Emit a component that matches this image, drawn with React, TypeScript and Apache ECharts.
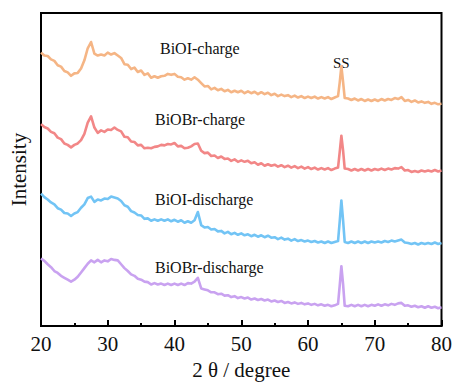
import React, { useEffect, useRef } from "react";
import * as echarts from "echarts";

// 2θ positions (degrees)
const twoTheta: number[] = [
  20, 20.5, 21, 21.5, 22, 22.5, 23, 23.5, 24, 24.5, 25, 25.5, 26, 26.5, 27, 27.5, 28, 28.5, 29, 29.5,
  30, 30.5, 31, 31.5, 32, 32.5, 33, 33.5, 34, 34.5, 35, 35.5, 36, 36.5, 37, 37.5, 38, 38.5, 39, 39.5,
  40, 40.5, 41, 41.5, 42, 42.5, 43, 43.5, 44, 44.5, 45, 45.5, 46, 46.5, 47, 47.5, 48, 48.5, 49, 49.5,
  50, 50.5, 51, 51.5, 52, 52.5, 53, 53.5, 54, 54.5, 55, 55.5, 56, 56.5, 57, 57.5, 58, 58.5, 59, 59.5,
  60, 60.5, 61, 61.5, 62, 62.5, 63, 63.5, 64, 64.5, 64.75, 65, 65.25, 65.5,
  66, 66.5, 67, 67.5, 68, 68.5, 69, 69.5, 70, 70.5, 71, 71.5, 72, 72.5, 73, 73.5, 74, 74.5,
  75, 75.5, 76, 76.5, 77, 77.5, 78, 78.5, 79, 79.5, 80,
];

// Intensities (arbitrary units, stacked with offsets as in the figure)
const biOICharge: number[] = [
  283, 280, 279.5, 276, 274.5, 270, 268.5, 264, 262.5, 259, 261.5, 262, 266.5, 275, 287.5, 294, 282, 280, 281, 280,
  283, 281, 282.5, 280, 277.5, 271, 270.5, 266, 267.5, 263, 264.5, 260, 261.5, 257, 258.5, 257, 258.5, 259, 261, 260,
  261, 258, 257.5, 255, 256.5, 255, 257.5, 255, 251.5, 248, 248.5, 245, 246.5, 244, 245.5, 243, 244.5, 242, 243.5, 242,
  243.5, 241, 243, 241, 242.5, 240, 242, 240, 241.5, 239, 240.5, 238, 239.5, 238, 239, 237, 238.5, 236.5, 238, 236,
  237.5, 236, 237.5, 235.5, 237, 235.5, 237, 235, 236.5, 238, 252, 269, 253, 236,
  235.5, 234, 235.5, 233.5, 235, 233, 234.5, 233, 234.5, 233, 235, 233.5, 235, 234, 236, 235, 237, 233,
  234, 232, 233.5, 231.5, 232.5, 231, 232, 230, 231, 229.5, 230,
];

const biOBrCharge: number[] = [
  209, 206, 204.5, 201, 199.5, 195, 193.5, 189, 187.5, 185, 187.5, 189, 192.5, 199, 210.5, 217, 205.5, 200, 202.5, 201,
  203.5, 203, 205.5, 203, 201.5, 196, 195.5, 191, 190.5, 187, 187.5, 184, 184.5, 184, 185.5, 186, 187.5, 187, 188.5, 188,
  189.5, 186, 186.5, 184, 184.5, 186, 188.5, 189, 181.5, 179, 179.5, 176, 176.5, 174, 175.5, 173, 173.5, 171, 172.5, 170,
  171.5, 170, 171, 168.5, 169.5, 167, 168.5, 166, 167.5, 166, 167, 165, 166.5, 164.5, 166, 164, 165.5, 163.5, 165, 163,
  164.5, 162.5, 164, 162, 163.5, 162, 163.5, 161.5, 163, 164, 180, 197, 182, 163,
  162.5, 161, 162.5, 161, 162.5, 161, 162.5, 161, 162.5, 161.5, 163, 161.5, 163, 162, 163.5, 163, 164.5, 161,
  161.5, 159.5, 160.5, 159.5, 161, 160, 161, 160, 161.5, 160, 161,
];

const biOIDischarge: number[] = [
  137, 133.5, 131, 128, 126, 122, 120.5, 117, 116.5, 114, 116.5, 118, 122.5, 126, 132.5, 134, 128.5, 131, 130, 132,
  131.5, 134, 133, 132, 129.5, 125, 123.5, 119, 117.5, 115, 114.5, 111, 111.5, 109, 110.5, 109, 110.5, 109, 110.5, 108.5,
  110, 108, 109.5, 107, 108.5, 107, 109.5, 118, 104.5, 102, 102.5, 100, 100.5, 98, 98.5, 96, 97.5, 95, 96.5, 94.5,
  96, 94, 95, 93, 94.5, 92.5, 94, 92, 93.5, 91.5, 92, 90, 91.5, 89.5, 90.5, 88.5, 90, 88, 89, 87.5,
  88.5, 87, 88, 86.5, 87.5, 86, 87.5, 86, 87, 88, 108, 130, 110, 87,
  86, 87.5, 86, 87.5, 86, 87.5, 86, 87.5, 86.5, 87.5, 86.5, 88, 87, 88.5, 87.5, 88.5, 89.5, 86.5,
  86, 85, 86, 84.5, 86, 85, 86, 85, 86.5, 85, 86,
];

const biOBrDischarge: number[] = [
  70, 67.5, 64, 61, 57, 55, 52, 50, 48, 46, 48, 51, 55.5, 60, 64.5, 68, 66, 68.5, 66, 68,
  67, 69.5, 68.5, 68, 64, 60, 57, 53.5, 52, 49, 48, 46, 45.5, 43, 44.5, 43, 44, 42.5, 44, 42.5,
  44, 42.5, 44, 42.5, 44.5, 44, 46, 50, 39, 38, 37, 35, 35, 33, 33.5, 31.5, 32, 30, 31, 29,
  30, 28.5, 29.5, 27.5, 28.5, 27, 28, 26.5, 27.5, 25.5, 26.5, 25, 26, 24, 25, 23.5, 24.5, 23, 24, 22.5,
  23.5, 22, 23, 21.5, 22.5, 21, 22, 20.5, 21.5, 23, 42, 62, 44, 21,
  20.5, 22, 20.5, 22, 20.5, 22, 20.5, 22, 21, 22.5, 21, 22.5, 21.5, 23, 22, 23.5, 24, 21,
  21.5, 20, 21, 19.5, 20.5, 19, 20.5, 19, 20, 18.5, 19.5,
];

const seriesNames: string[] = ["BiOI-charge", "BiOBr-charge", "BiOI-discharge", "BiOBr-discharge"];
const seriesColors: string[] = ["#F5B585", "#F28787", "#72C4F5", "#C9A2F0"];
const xTicks = { min: 20, max: 80, interval: 10 };

const serif = "'Liberation Serif', 'Times New Roman', serif";

export default function App() {
  const ref = useRef<HTMLDivElement>(null);
  useEffect(() => {
    if (!ref.current) return;
    const chart = echarts.init(ref.current, undefined, { renderer: "svg" });
    const all = [biOICharge, biOBrCharge, biOIDischarge, biOBrDischarge];
    const series = all.map((vals, i) => ({
      name: seriesNames[i],
      type: "line" as const,
      showSymbol: false,
      symbol: "none",
      data: vals.map((v, j) => [twoTheta[j], v]),
      lineStyle: { color: seriesColors[i], width: 2.6, join: "round" },
      itemStyle: { color: seriesColors[i] },
    }));
    const labelStyle = { fill: "#111", font: `16px ${serif}` };
    chart.setOption({
      animation: false,
      backgroundColor: "#fff",
      grid: {
        left: 40,
        right: 13,
        top: 13,
        bottom: 48,
        show: true,
        borderColor: "#000",
        borderWidth: 2,
      },
      xAxis: {
        type: "value",
        min: xTicks.min,
        max: xTicks.max,
        interval: xTicks.interval,
        name: "2 θ / degree",
        nameLocation: "middle",
        nameGap: 26,
        nameTextStyle: { fontFamily: serif, fontSize: 21, color: "#111" },
        axisLine: { show: true, lineStyle: { color: "#000", width: 2 } },
        axisTick: { show: true, inside: true, length: 6, lineStyle: { color: "#000", width: 2 } },
        minorTick: { show: true, splitNumber: 2, length: 3, lineStyle: { color: "#000", width: 2 } },
        axisLabel: { fontFamily: serif, fontSize: 21, color: "#111", margin: 7 },
        splitLine: { show: false },
      },
      yAxis: {
        type: "value",
        min: 0,
        max: 324,
        name: "Intensity",
        nameLocation: "middle",
        nameRotate: 90,
        nameGap: 12,
        nameTextStyle: { fontFamily: serif, fontSize: 21, color: "#111" },
        axisLine: { show: true, lineStyle: { color: "#000", width: 2 } },
        axisTick: { show: false },
        axisLabel: { show: false },
        splitLine: { show: false },
      },
      graphic: [
        { type: "text", left: 160, top: 40, style: { text: seriesNames[0], ...labelStyle } },
        { type: "text", left: 155, top: 111, style: { text: seriesNames[1], ...labelStyle } },
        { type: "text", left: 155, top: 191, style: { text: seriesNames[2], ...labelStyle } },
        { type: "text", left: 155, top: 259, style: { text: seriesNames[3], ...labelStyle } },
        { type: "text", left: 333, top: 55, style: { text: "SS", fill: "#111", font: `15px ${serif}` } },
      ],
      series,
    });
    return () => chart.dispose();
  }, []);
  return (
    <div
      ref={ref}
      style={{ position: "fixed", left: 0, top: 0, width: 455, height: 385, background: "#fff" }}
    />
  );
}
